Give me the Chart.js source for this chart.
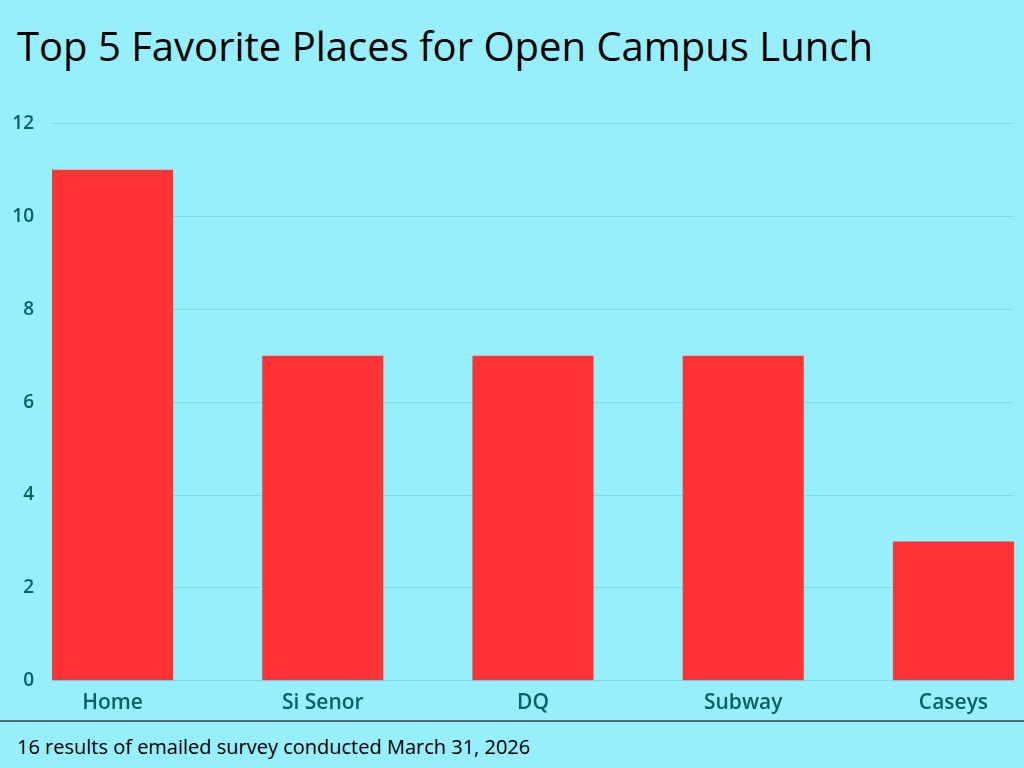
<!DOCTYPE html>
<html>
<head>
<meta charset="utf-8">
<title>Top 5 Favorite Places for Open Campus Lunch</title>
<script src="https://cdn.jsdelivr.net/npm/chart.js@4/dist/chart.umd.min.js"></script>
<style>
    html, body { margin: 0; padding: 0; }
    body {
        width: 1024px;
        height: 768px;
        background: #97effe;
        position: relative;
        overflow: hidden;
        font-family: "Open Sans", sans-serif;
    }
    #title {
        position: absolute;
        left: 17px;
        top: 18px;
        margin: 0;
        font-size: 40px;
        font-weight: 400;
        color: #000;
        line-height: 56px;
        white-space: nowrap;
    }
    #chartWrap {
        position: absolute;
        left: 0;
        top: 94px;
        width: 1024px;
        height: 624px;
    }
    #rule {
        position: absolute;
        left: 0;
        top: 720px;
        width: 1024px;
        height: 2px;
        background: #4d6e74;
    }
    #footer {
        position: absolute;
        left: 17px;
        top: 733px;
        margin: 0;
        font-size: 20px;
        color: #000;
        line-height: 28px;
        white-space: nowrap;
    }
</style>
</head>
<body>
<h1 id="title">Top 5 Favorite Places for Open Campus Lunch</h1>
<div id="chartWrap"><canvas id="lunchChart"></canvas></div>
<div id="rule"></div>
<p id="footer">16 results of emailed survey conducted March 31, 2026</p>

<script>
// Survey data
const categories = ['Home', 'Si Senor', 'DQ', 'Subway', 'Caseys'];
const votes = [11, 7, 7, 7, 3];
const yTicks = [0, 2, 4, 6, 8, 10, 12];

const barColor = '#ff3333';
const labelColor = '#0d5e63';
const gridColor = '#7ad9ea';

// bar half-width in category units so the outer bars sit flush with the plot edges
const halfBar = 0.288;

document.addEventListener('DOMContentLoaded', function() {
    const ctx = document.getElementById('lunchChart').getContext('2d');

    new Chart(ctx, {
        type: 'bar',
        data: {
            datasets: [{
                label: 'Votes',
                data: votes.map((v, i) => ({ x: i, y: v })),
                backgroundColor: barColor,
                borderWidth: 0,
                categoryPercentage: 1,
                barPercentage: 0.576
            }]
        },
        options: {
            responsive: true,
            maintainAspectRatio: false,
            animation: false,
            layout: {
                padding: { top: 7, right: 10, bottom: 0, left: 0 }
            },
            plugins: {
                legend: { display: false },
                tooltip: { enabled: false }
            },
            scales: {
                x: {
                    type: 'linear',
                    offset: false,
                    min: -halfBar,
                    max: categories.length - 1 + halfBar,
                    afterBuildTicks: function(scale) {
                        scale.ticks = categories.map((_, i) => ({ value: i }));
                    },
                    grid: { display: false, offset: false },
                    border: { display: false },
                    ticks: {
                        autoSkip: false,
                        maxRotation: 0,
                        padding: 2,
                        color: labelColor,
                        font: { family: 'Open Sans', size: 21, weight: '600' },
                        callback: function(value) {
                            return categories[value];
                        }
                    }
                },
                y: {
                    min: yTicks[0],
                    max: yTicks[yTicks.length - 1],
                    afterBuildTicks: function(scale) {
                        scale.ticks = yTicks.map(v => ({ value: v }));
                    },
                    afterFit: function(scale) {
                        scale.width = 52;
                    },
                    grid: {
                        color: gridColor,
                        lineWidth: 1,
                        drawTicks: false
                    },
                    border: { display: false },
                    ticks: {
                        padding: 18,
                        color: labelColor,
                        font: { family: 'Open Sans', size: 19, weight: '600' }
                    }
                }
            }
        }
    });
});
</script>
</body>
</html>
